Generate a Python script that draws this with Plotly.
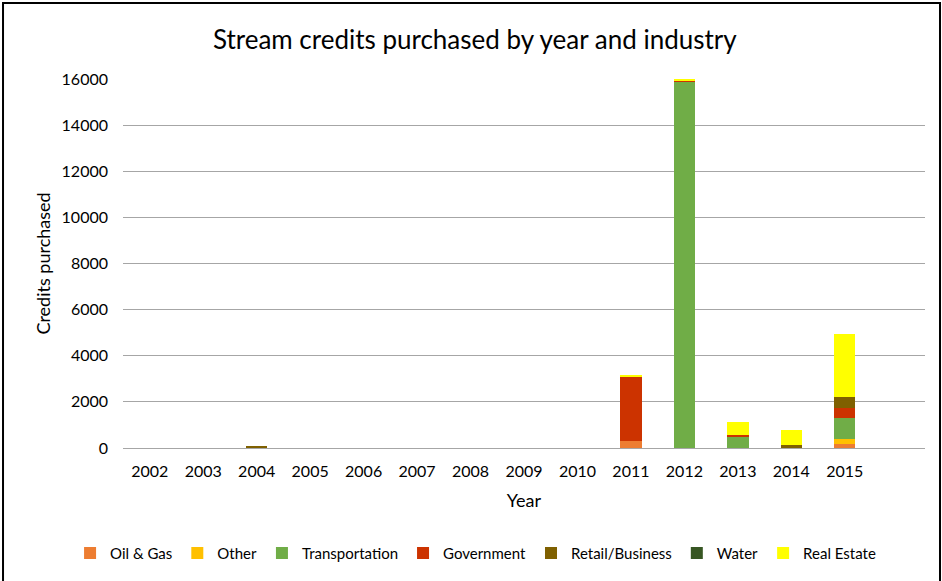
import plotly.graph_objects as go

# stream credits by year; last slot (2016) is empty in the original chart
years = ["2002", "2003", "2004", "2005", "2006", "2007", "2008",
         "2009", "2010", "2011", "2012", "2013", "2014", "2015", ""]

oil_gas = [0, 0, 0, 0, 0, 0, 0, 0, 0, 320, 0, 0, 0, 190, 0]
other = [0, 0, 0, 0, 0, 0, 0, 0, 0, 0, 0, 0, 0, 200, 0]
transportation = [0, 0, 0, 0, 0, 0, 0, 0, 0, 0, 15900, 520, 0, 915, 0]
government = [0, 0, 0, 0, 0, 0, 0, 0, 0, 2800, 40, 40, 0, 435, 0]
retail_business = [0, 0, 70, 0, 0, 0, 0, 0, 0, 0, 0, 0, 150, 490, 0]
water = [0, 0, 0, 0, 0, 0, 0, 0, 0, 0, 0, 0, 0, 0, 0]
real_estate = [0, 0, 0, 0, 0, 0, 0, 0, 0, 40, 40, 580, 650, 2730, 0]

series = [
    ("Oil & Gas", oil_gas, "#ED7D31"),
    ("Other", other, "#FFC000"),
    ("Transportation", transportation, "#70AD47"),
    ("Government", government, "#CC3300"),
    ("Retail/Business", retail_business, "#7F6000"),
    ("Water", water, "#375623"),
    ("Real Estate", real_estate, "#FFFF00"),
]

xpos = list(range(len(years)))

fig = go.Figure()
for name, vals, color in series:
    fig.add_trace(go.Bar(x=xpos, y=vals, name=name, marker_color=color,
                         marker_line_width=0, width=0.4))

font = "Lato, 'Open Sans', sans-serif"

fig.update_layout(
    barmode="stack",
    width=942, height=581,
    margin=dict(l=123, r=17, t=79, b=133, autoexpand=False),
    paper_bgcolor="white", plot_bgcolor="white",
    font=dict(family=font, size=16, color="#000000"),
    title=dict(text="Stream credits purchased by year and industry",
               x=0.504, xanchor="center", y=0.931, yanchor="middle",
               font=dict(size=26, family=font, color="#000000")),
    xaxis=dict(tickmode="array", tickvals=xpos[:-1], ticktext=years[:-1],
               range=[-0.5, len(years) - 0.5], showgrid=False,
               showline=True, linecolor="#A6A6A6", linewidth=1,
               automargin=False, tickfont=dict(size=16),
               title=dict(text="Year", standoff=15, font=dict(size=18)),
               ticklabelstandoff=9),
    yaxis=dict(range=[0, 16000], dtick=2000, tickformat="d", showgrid=True,
               gridcolor="#A6A6A6", gridwidth=1, zeroline=False,
               showline=False, ticklabelstandoff=14, automargin=False,
               tickfont=dict(size=16),
               title=dict(text="Credits purchased", standoff=6,
                          font=dict(size=18))),
    legend=dict(orientation="h", x=-0.066, xanchor="left",
                y=-0.285, yanchor="middle", font=dict(size=15),
                itemwidth=30, traceorder="normal"),
    bargap=0.6,
    showlegend=True,
)

# outer black frame like the pasted Excel chart
fig.add_shape(type="rect", xref="paper", yref="paper",
              x0=-0.1496, x1=1.0187, y0=-0.40, y1=1.206,
              line=dict(color="black", width=2), fillcolor="rgba(0,0,0,0)",
              layer="above")

fig.write_html("out.html", config={"displayModeBar": False},
               post_script="document.body.style.margin='0';")
